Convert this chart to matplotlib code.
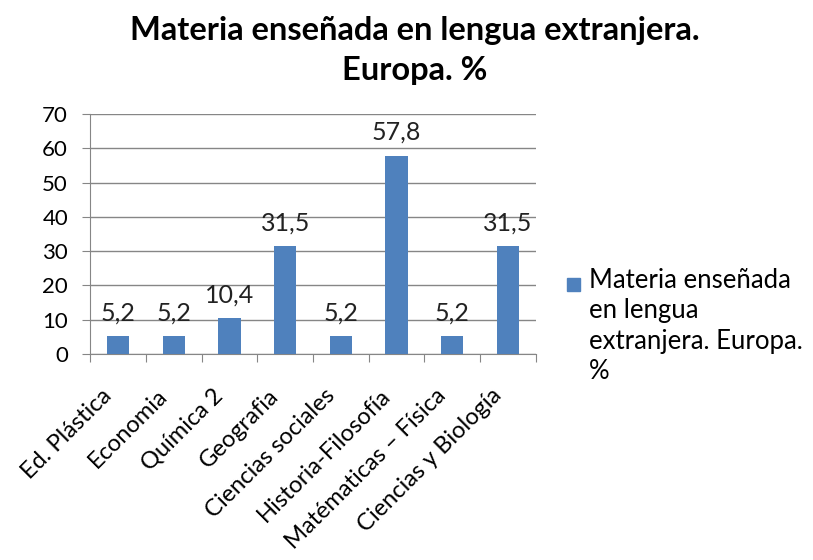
import matplotlib
matplotlib.use('Agg')
import numpy as np
import matplotlib.pyplot as plt
from matplotlib.patches import Rectangle
from matplotlib.transforms import ScaledTranslation

# datos: materias y porcentaje
materias = ['Ed. Plástica', 'Economia', 'Química 2', 'Geografia',
            'Ciencias sociales', 'Historia-Filosofía', 'Matématicas – Física',
            'Ciencias y Biología']
porcentajes = [5.2, 5.2, 10.4, 31.5, 5.2, 57.8, 5.2, 31.5]
etiquetas = ['5,2', '5,2', '10,4', '31,5', '5,2', '57,8', '5,2', '31,5']
ticks_y = [0, 10, 20, 30, 40, 50, 60, 70]

azul = '#4F81BD'
gris = '#868686'
plt.rcParams['font.family'] = ['Lato', 'DejaVu Sans']

fig = plt.figure(figsize=(8.13, 5.6), dpi=100)
ax = fig.add_axes([0.111, 0.368, 0.548, 0.428])

x = np.arange(len(materias))
ax.bar(x, porcentajes, width=0.4, color=azul, zorder=3)

for xi, v, txt in zip(x, porcentajes, etiquetas):
    ax.text(xi, v + 3.5, txt, ha='center', va='bottom', fontsize=18, color='#222222')

ax.set_xlim(-0.5, len(materias) - 0.5)
ax.set_ylim(0, 70)
ax.set_yticks(ticks_y)
ax.tick_params(axis='y', labelsize=16, length=6, color=gris, pad=10)
ax.yaxis.grid(True, color=gris, linewidth=1, zorder=0)

# marcas del eje x entre categorías, etiquetas en el centro
ax.set_xticks(np.arange(-0.5, len(materias), 1.0))
ax.set_xticklabels([])
ax.tick_params(axis='x', length=6, color=gris)
ax.set_xticks(x, minor=True)
ax.set_xticklabels(materias, minor=True, rotation=45, ha='right', va='top',
                   rotation_mode='anchor', fontsize=17)
ax.tick_params(axis='x', which='minor', length=0, pad=0)
desplazamiento = ScaledTranslation(-17 / 100, -31 / 100, fig.dpi_scale_trans)
for lbl in ax.get_xticklabels(minor=True):
    lbl.set_transform(lbl.get_transform() + desplazamiento)

for lado in ['top', 'right']:
    ax.spines[lado].set_visible(False)
for lado in ['left', 'bottom']:
    ax.spines[lado].set_color(gris)

fig.text(0.51, 0.945, 'Materia enseñada en lengua extranjera.', ha='center',
         va='center', fontsize=23.5, fontweight='bold')
fig.text(0.51, 0.874, 'Europa. %', ha='center', va='center',
         fontsize=23.5, fontweight='bold')

# leyenda
fig.patches.append(Rectangle((567 / 813, 1 - 291 / 560), 13 / 813, 13 / 560,
                             transform=fig.transFigure, color=azul))
fig.text(589 / 813, 1 - 268 / 560,
         'Materia enseñada\nen lengua\nextranjera. Europa.\n%',
         ha='left', va='top', fontsize=18.5, linespacing=1.27,
         transform=fig.transFigure)

fig.savefig('out.png', dpi=100)
